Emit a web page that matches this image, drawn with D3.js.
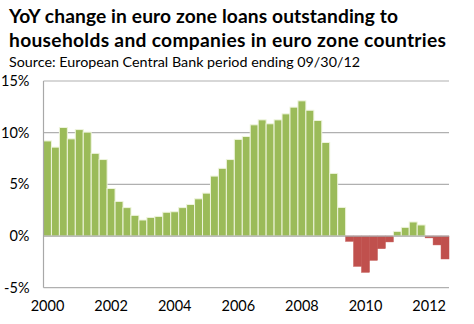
<!DOCTYPE html>
<html><head><meta charset="utf-8">
<script src="https://cdn.jsdelivr.net/npm/d3@7"></script>
<style>body{margin:0;background:#fff}svg{display:block}</style>
</head><body>
<svg id="c" width="474" height="324"></svg>
<script>
const titleLines = ["YoY change in euro zone loans outstanding to", "households and companies in euro zone countries"];
const subtitle = "Source: European Central Bank period ending 09/30/12";
// quarterly periods 2000Q1 .. 2012Q3
const periods = [];
for (let y = 2000; y <= 2012; y++) for (let q = 1; q <= 4; q++) if (!(y === 2012 && q > 3)) periods.push(y + "Q" + q);
const values = [9.2, 8.6, 10.5, 9.4, 10.3, 10.05, 8.0, 7.4, 4.6, 3.35, 2.75, 2.0, 1.55, 1.8, 1.9, 2.3, 2.35, 2.75, 3.05, 3.6, 4.15, 5.8, 6.55, 7.4, 9.35, 9.63, 10.76, 11.24, 10.86, 11.24, 11.82, 12.47, 13.08, 12.17, 11.18, 9.05, 6.06, 2.77, -0.51, -2.93, -3.51, -2.35, -1.22, -0.57, 0.45, 0.84, 1.36, 1.07, -0.18, -0.86, -2.22];
const yTicks = [-5, 0, 5, 10, 15];
const xLabelYears = ["2000", "2002", "2004", "2006", "2008", "2010", "2012"];

const svg = d3.select("#c");
const font = "Lato, 'Open Sans', sans-serif";
const L = 43.5, R = 449, T = 81, B = 287.7;

const x = d3.scaleBand().domain(periods).range([L, R]).paddingInner(0).paddingOuter(0);
const y = d3.scaleLinear().domain([-5, 15]).range([B, T]);

// title
const titleWidths = [389, 437];
titleLines.forEach((t, i) => {
  svg.append("text").attr("x", 9).attr("y", 22.5 + i * 24).text(t)
    .attr("font-family", font).attr("font-weight", "bold").attr("font-size", 19.2).attr("fill", "#000")
    .attr("textLength", titleWidths[i]).attr("lengthAdjust", "spacing");
});
svg.append("text").attr("x", 9).attr("y", 67).text(subtitle)
  .attr("font-family", font).attr("font-size", 14.3).attr("fill", "#000")
  .attr("textLength", 351).attr("lengthAdjust", "spacing");

// gridlines
svg.append("g").selectAll("line").data(yTicks.filter(d => d !== 0)).join("line")
  .attr("x1", L).attr("x2", R).attr("y1", d => y(d)).attr("y2", d => y(d))
  .attr("stroke", "#b0b0b0").attr("stroke-width", 1.2);

// bars
svg.append("g").selectAll("rect").data(values).join("rect")
  .attr("x", (d, i) => x(periods[i]))
  .attr("width", x.bandwidth())
  .attr("y", d => d >= 0 ? y(d) : y(0))
  .attr("height", d => Math.abs(y(d) - y(0)))
  .attr("fill", d => d >= 0 ? "#9bbb59" : "#c0504d")
  .attr("stroke", d => d >= 0 ? "#eef4dc" : "#c0504d")
  .attr("stroke-width", d => d >= 0 ? 1 : 0.5);

// zero line & y-axis line
svg.append("line").attr("x1", L).attr("x2", R).attr("y1", y(0)).attr("y2", y(0))
  .attr("stroke", "#a8a8a8").attr("stroke-width", 1.2);
svg.append("line").attr("x1", L).attr("x2", L).attr("y1", T).attr("y2", B)
  .attr("stroke", "#a8a8a8").attr("stroke-width", 1.2);

// y axis labels
const yAxis = d3.axisLeft(y).tickValues(yTicks).tickFormat(d => d + "%").tickSize(0).tickPadding(14);
const ya = svg.append("g").attr("transform", `translate(${L},0)`).call(yAxis);
ya.select(".domain").remove();
ya.selectAll("text").attr("font-family", font).attr("font-size", 14.5).attr("fill", "#000");

// x axis labels
const xLabelPeriods = xLabelYears.map(yr => yr + "Q1");
const xAxis = d3.axisBottom(x).tickValues(xLabelPeriods).tickFormat(d => d.slice(0, 4)).tickSize(0).tickPadding(13);
const xa = svg.append("g").attr("transform", `translate(0,${B})`).call(xAxis);
xa.select(".domain").remove();
xa.selectAll("text").attr("font-family", font).attr("font-size", 14.5).attr("fill", "#000");
</script>
</body></html>
